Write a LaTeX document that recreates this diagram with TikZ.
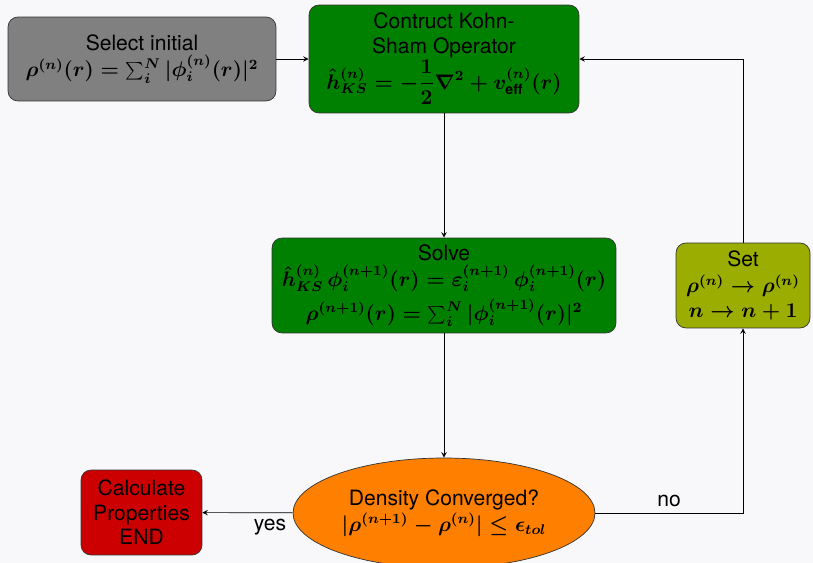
\documentclass[tikz,border=0pt]{standalone}
\usepackage{fontspec}
\setmainfont{TeX Gyre Heros}
\usetikzlibrary{shapes.geometric,arrows}
\definecolor{bggray}{HTML}{F8F8FA}
\definecolor{initgray}{HTML}{808080}
\definecolor{ksgreen}{HTML}{008000}
\definecolor{setolive}{HTML}{9AAD00}
\definecolor{endred}{HTML}{CC0000}
\definecolor{convorange}{HTML}{FF8000}
\begin{document}
\begin{tikzpicture}
        [x=0.02cm,y=-0.02cm,>=stealth,
         box/.style={draw=black!80, rounded corners=0.2cm, align=center, inner sep=1pt, font=\large\boldmath},
         every edge/.style={draw, black}]
      \clip (0,0) rectangle (813,563);
      \fill[bggray] (0,0) rectangle (813,563);

      \node[box, fill=initgray, minimum width=5.36cm, minimum height=1.68cm] (init) at (142,59)
        {Select initial\\[1pt] $\rho^{(n)}(r) = \sum_i^N |\phi_i^{(n)}(r)|^2$};
      \node[box, fill=ksgreen, minimum width=5.4cm, minimum height=2.16cm] (ks) at (444,59)
        {Contruct Kohn-\\ Sham Operator\\ $\displaystyle \hat{h}_{KS}^{(n)} = -\frac{1}{2}\nabla^2 + v_{\mathrm{eff}}^{(n)}(r)$};
      \node[box, fill=ksgreen, minimum width=6.88cm, minimum height=1.9cm] (solve) at (444,285.5)
        {Solve\\[1pt] $\hat{h}_{KS}^{(n)}\,\phi_i^{(n+1)}(r) = \varepsilon_i^{(n+1)}\,\phi_i^{(n+1)}(r)$\\[3pt] $\rho^{(n+1)}(r) = \sum_i^N |\phi_i^{(n+1)}(r)|^2$};
      \node[box, fill=setolive, minimum width=2.68cm, minimum height=1.7cm] (set) at (743,285.5)
        {Set\\[1pt] $\rho^{(n)} \rightarrow \rho^{(n)}$\\ $n \rightarrow n+1$};
      \node[box, fill=endred, minimum width=2.42cm, minimum height=1.7cm] (calc) at (141.5,512.5)
        {Calculate\\ Properties\\ END};
      \node[draw=black!80, ellipse, fill=convorange, align=center, inner sep=1pt, font=\large\boldmath,
            minimum width=6.04cm, minimum height=2.2cm] (conv) at (444,513)
        {Density Converged?\\[1pt] $|\rho^{(n+1)} - \rho^{(n)}| \leq \epsilon_{tol}$};

      \foreach \from/\to in {init/ks, ks/solve, solve/conv}
        \draw (\from) edge[->] (\to);
      \draw[->] (conv) -- node[below, pos=0.25, font=\large]{yes} (calc);
      \draw[->] (conv) -| node[above, pos=0.25, font=\large]{no} (set);
      \draw[->] (set) |- (ks);
    \end{tikzpicture}
\end{document}
